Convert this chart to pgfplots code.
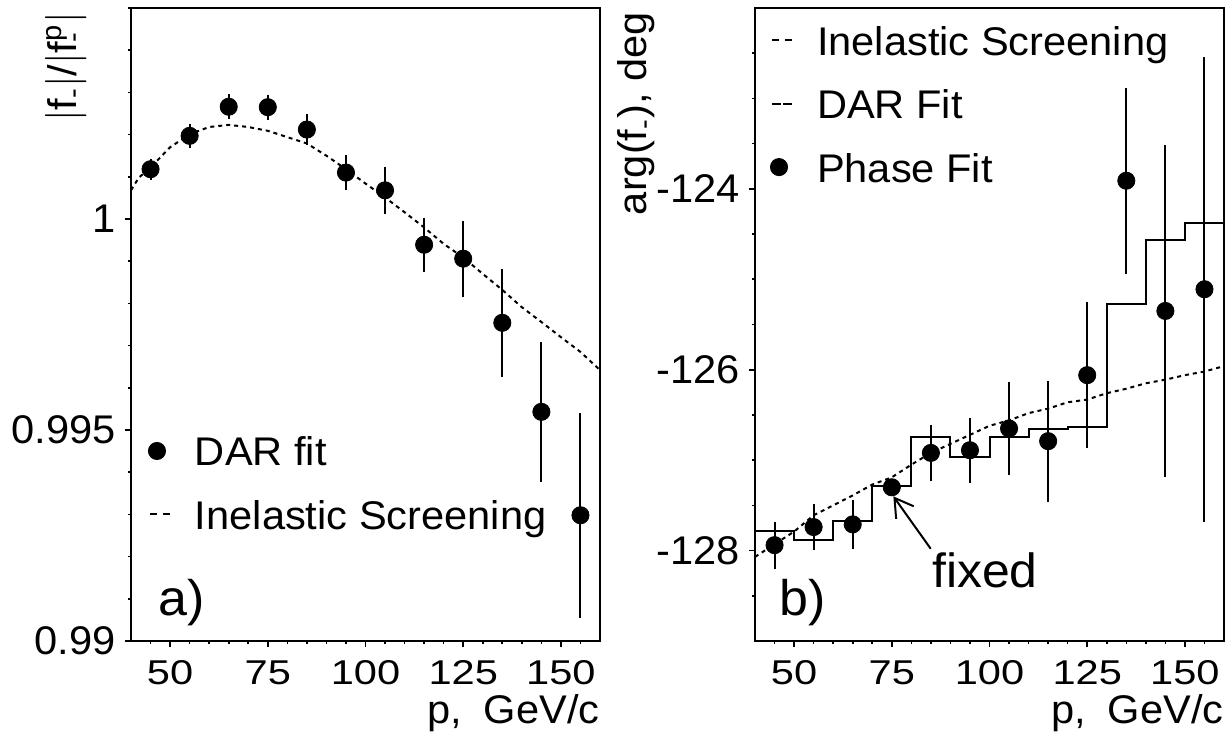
\documentclass[border=0pt]{standalone}
\usepackage{fontspec}
\setmainfont{Liberation Sans}[FakeStretch=1.04]
\usepackage{pgfplots}
\pgfplotsset{compat=1.18}
\usepackage{pgfplotstable}
\usetikzlibrary{arrows.meta}

% |f_-|/|f^p_-| : DAR fit points (p, value, error)
\pgfplotstableread{
p    v        e
45   1.00118  0.00025
55   1.00197  0.00028
65   1.00266  0.00030
75   1.00265  0.00030
85   1.00212  0.00036
95   1.00110  0.00041
105  1.00068  0.00056
115  0.99939  0.00064
125  0.99906  0.00090
135  0.99754  0.00128
145  0.99543  0.00166
155  0.99298  0.00243
}\darmod

% |f_-|/|f^p_-| : inelastic screening prediction
\pgfplotstableread{
p    v
40   1.00068
42   1.00098
45   1.00122
50   1.00170
55   1.00201
60   1.00218
65   1.00223
70   1.00218
75   1.00209
80   1.00194
85   1.00179
90   1.00150
95   1.00118
100  1.00084
105  1.00051
110  1.00016
115  0.99980
120  0.99941
125  0.99909
130  0.99870
135  0.99832
140  0.99791
145  0.99756
150  0.99720
155  0.99685
160  0.99642
}\screenmod

% arg(f_-) : phase fit points (p, value, error); 75 GeV/c is fixed
\pgfplotstableread{
p    v        e
45   -127.94  0.26
55   -127.74  0.25
65   -127.71  0.27
75   -127.30  0.00
85   -126.92  0.31
95   -126.89  0.36
105  -126.65  0.51
115  -126.79  0.67
125  -126.06  0.81
135  -123.91  1.03
145  -125.35  1.84
155  -125.11  2.57
}\phasefit

% arg(f_-) : DAR fit, 10 GeV/c bins (left edges)
\pgfplotstableread{
p    v
40   -127.78
50   -127.88
60   -127.67
70   -127.29
80   -126.74
90   -126.96
100  -126.74
110  -126.66
120  -126.63
130  -125.27
140  -124.57
150  -124.38
160  -124.38
}\darphase

% arg(f_-) : inelastic screening prediction
\pgfplotstableread{
p    v
40   -128.07
50   -127.79
55   -127.61
60   -127.50
65   -127.39
70   -127.27
75   -127.19
80   -127.05
85   -126.92
90   -126.82
95   -126.72
100  -126.62
105  -126.56
110  -126.48
115  -126.43
120  -126.36
125  -126.33
130  -126.26
135  -126.21
140  -126.15
145  -126.11
150  -126.06
155  -126.02
160  -125.96
}\screenphase

% momentum tick labels are set slightly condensed in height
\newcommand{\xtl}[1]{\scalebox{1}[0.86]{#1}}

\pgfplotsset{
  panel/.style={
    scale only axis, width=234.5pt, height=316.5pt,
    font=\fontsize{20pt}{24pt}\selectfont,
    axis line style={line width=1pt},
    every tick/.style={line width=0.8pt, black},
    tick align=outside, xtick pos=bottom, ytick pos=left,
    major tick length=3pt, minor tick length=1.5pt,
    xmin=40, xmax=160,
    xtick={50,75,100,125,150},
    xticklabels={\xtl{50},\xtl{75},\xtl{100},\xtl{125},\xtl{150}},
    minor xtick={45,50,...,155},
    xticklabel style={inner sep=0pt, yshift=-6.5pt},
    yticklabel style={inner sep=0pt, xshift=-4.5pt},
    xlabel={p,\hspace{0.55em}GeV/c},
    xlabel style={at={(rel axis cs:1,0)}, anchor=base east, yshift=-41pt, inner sep=0pt},
    legend cell align=left,
    legend style={draw=none, fill=none, inner sep=0pt, outer sep=0pt,
      row sep=12.75pt, column sep=12pt,
      font=\fontsize{20pt}{24pt}\selectfont,
      nodes={inner sep=0pt, text height=15pt, text depth=4pt, anchor=base west}},
    clip=true,
  },
  dotimg/.style={legend image code/.code={\fill[black] (3.5pt,7.5pt) circle (4.3pt);}},
  dashimg/.style={legend image code/.code={\draw[line width=1pt, dash pattern=on 3.5pt off 3pt] (0pt,7.5pt) -- (10pt,7.5pt);}},
  stepimg/.style={legend image code/.code={\draw[line width=1pt, dash pattern=on 4.5pt off 1pt] (0pt,7.5pt) -- (10pt,7.5pt);}},
  points/.style={only marks, mark=*, mark size=4.3pt, black,
    mark options={fill=black, draw=black},
    error bars/y dir=both, error bars/y explicit, error bars/error mark=none,
    error bars/error bar style={line width=1pt, black}},
  screening/.style={black, line width=1pt, dash pattern=on 2pt off 2pt},
}

\begin{document}
\begin{tikzpicture}
\useasboundingbox (0,0) rectangle (615pt,367.5pt);

% a) modulus ratio
\begin{axis}[panel, at={(65.5pt,47pt)}, anchor=south west,
  ymin=0.99, ymax=1.005,
  ytick={0.99,0.995,1}, yticklabels={0.99,0.995,1},
  minor ytick={0.991,0.992,...,1.0045},
  ylabel={$|$f\textsubscript{-}$|$/$|$f\textsuperscript{p}\kern-0.45em\textsubscript{-}\kern0.2em$|$},
  ylabel style={at={(axis description cs:-0.117,0.9937)}, anchor=base east, inner sep=0pt},
  legend style={at={(rel axis cs:0.0362,0.3239)}, anchor=north west},
]
\addlegendimage{dotimg}
\addlegendentry{DAR fit}
\addlegendimage{dashimg}
\addlegendentry{Inelastic Screening}
\addplot[screening, forget plot] table[x=p, y=v] {\screenmod};
\addplot[forget plot, points] table[x=p, y=v, y error=e] {\darmod};
\node[anchor=base west, inner sep=0pt, font=\fontsize{25pt}{30pt}\selectfont]
  at (rel axis cs:0.0576,0.041) {a)};
\end{axis}

% b) phase
\begin{axis}[panel, at={(377.5pt,47pt)}, anchor=south west,
  ymin=-129, ymax=-122,
  ytick={-128,-126,-124}, yticklabels={-128,-126,-124},
  minor ytick={-128.5,-128,...,-122.5},
  ylabel={arg(f\textsubscript{-}), deg},
  ylabel style={at={(axis description cs:-0.2303,0.9937)}, anchor=base east, inner sep=0pt},
  legend style={at={(rel axis cs:0.032,0.973)}, anchor=north west},
]
\addlegendimage{dashimg}
\addlegendentry{Inelastic Screening}
\addlegendimage{stepimg}
\addlegendentry{DAR Fit}
\addlegendimage{dotimg}
\addlegendentry{Phase Fit}
\addplot[screening, forget plot] table[x=p, y=v] {\screenphase};
\addplot[const plot, black, line width=1pt, forget plot] table[x=p, y=v] {\darphase};
\addplot[forget plot, points] table[x=p, y=v, y error=e] {\phasefit};
\draw[line width=1pt, -{Straight Barb[length=9pt, width=10.8pt, line width=1pt]}]
  (axis cs:84.96,-127.98) -- (axis cs:75.4,-127.40);
\node[anchor=base west, inner sep=0pt, font=\fontsize{24pt}{29pt}\selectfont]
  at (rel axis cs:0.377,0.0853) {fixed};
\node[anchor=base west, inner sep=0pt, font=\fontsize{25pt}{30pt}\selectfont]
  at (rel axis cs:0.0512,0.041) {b)};
\end{axis}
\end{tikzpicture}
\end{document}
